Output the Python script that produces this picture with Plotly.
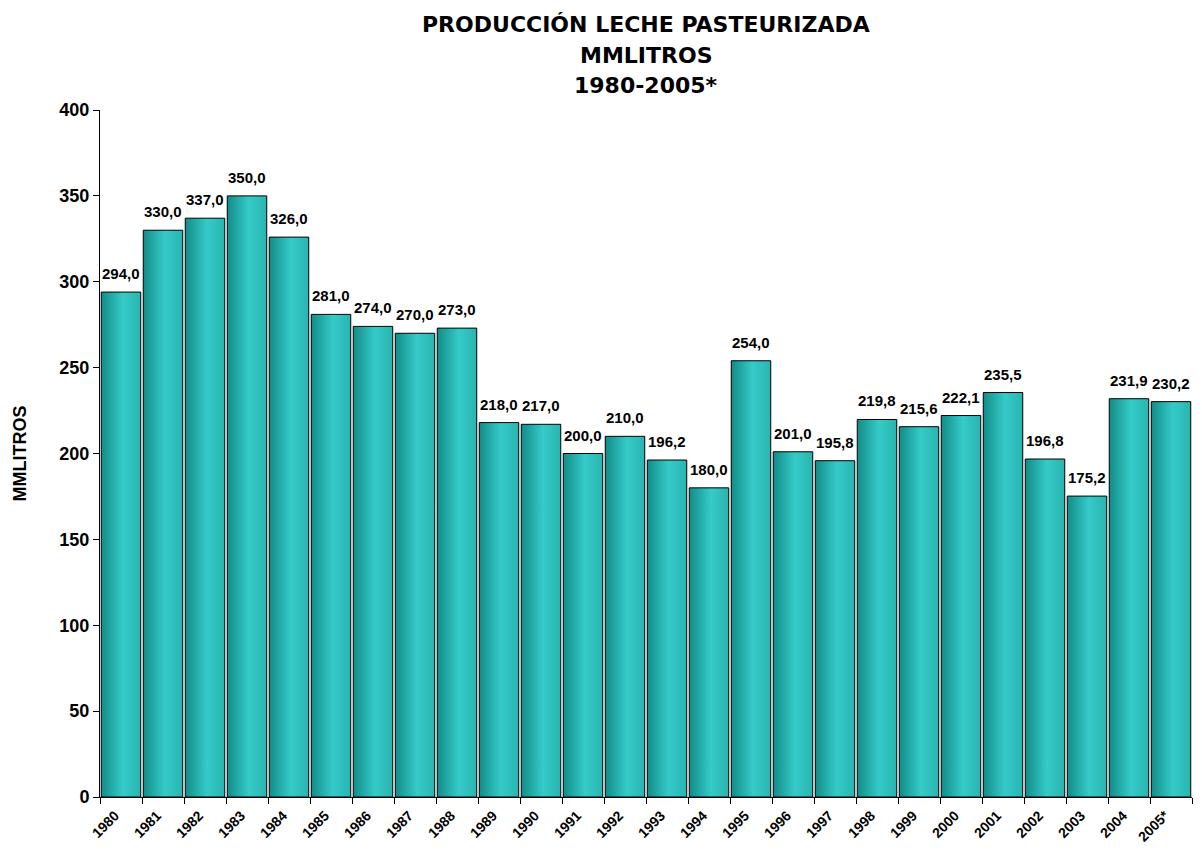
import plotly.graph_objects as go

YEARS = ["1980", "1981", "1982", "1983", "1984", "1985", "1986", "1987", "1988",
         "1989", "1990", "1991", "1992", "1993", "1994", "1995", "1996", "1997",
         "1998", "1999", "2000", "2001", "2002", "2003", "2004", "2005*"]
PRODUCCION = [294.0, 330.0, 337.0, 350.0, 326.0, 281.0, 274.0, 270.0, 273.0,
              218.0, 217.0, 200.0, 210.0, 196.2, 180.0, 254.0, 201.0, 195.8,
              219.8, 215.6, 222.1, 235.5, 196.8, 175.2, 231.9, 230.2]
TITLE_LINES = ["PRODUCCIÓN LECHE PASTEURIZADA", "MMLITROS", "1980-2005*"]

FONT = "Liberation Sans, Arial, sans-serif"
TITLE_FONT = "DejaVu Sans, Liberation Sans, sans-serif"
HALF = 0.47

fig = go.Figure()
for i, v in enumerate(PRODUCCION):
    # cada barra como polígono relleno para poder usar degradado
    fig.add_trace(go.Scatter(
        x=[i - HALF, i + HALF, i + HALF, i - HALF, i - HALF],
        y=[0, 0, v, v, 0],
        mode="lines", fill="toself",
        fillgradient=dict(
            type="horizontal",
            colorscale=[[0, "#128c88"], [0.55, "#35cbc8"], [1, "#2ab4b0"]],
        ),
        line=dict(color="black", width=1),
        showlegend=False, hoverinfo="skip",
    ))

annotations = []
for i, v in enumerate(PRODUCCION):
    annotations.append(dict(
        x=i, y=v, xref="x", yref="y",
        text=f"{v:.1f}".replace(".", ","),
        showarrow=False, xanchor="center", yanchor="bottom", yshift=8,
        font=dict(family=FONT, size=15, color="black", weight="bold"),
    ))

# la página tiene 8px de margen en body: todo va desplazado 8px
W, H = 1186, 836
M_L, M_R, M_T, M_B = 92, 2, 102, 47
PLOT_H = H - M_T - M_B
PLOT_W = W - M_L - M_R
for text, ypix in zip(TITLE_LINES, [16, 47, 78]):
    annotations.append(dict(
        x=0.5, y=(H - M_B - ypix) / PLOT_H,
        xref="paper", yref="paper", text=text, showarrow=False,
        xanchor="center", yanchor="middle",
        font=dict(family=TITLE_FONT, size=22, color="black", weight="bold"),
    ))
annotations.append(dict(
    x=(11 - M_L) / PLOT_W, y=0.5, xref="paper", yref="paper",
    text="MMLITROS", showarrow=False, textangle=-90,
    xanchor="center", yanchor="middle",
    font=dict(family=FONT, size=18, color="black", weight="bold"),
))

fig.update_layout(
    width=W, height=H,
    paper_bgcolor="white", plot_bgcolor="white",
    margin=dict(l=M_L, r=M_R, t=M_T, b=M_B),
    annotations=annotations,
    xaxis=dict(
        range=[-0.5, len(YEARS) - 0.5], automargin=False,
        tickvals=list(range(len(YEARS))), ticktext=YEARS,
        tickangle=-45, ticks="", showgrid=False, zeroline=False,
        ticklabelstandoff=4, ticklabelshift=-6,
        showline=True, linecolor="black", linewidth=1,
        tickfont=dict(family=FONT, size=14, color="black", weight="bold"),
        minor=dict(tickvals=[i - 0.5 for i in range(len(YEARS) + 1)],
                   ticks="outside", ticklen=6, tickcolor="black", showgrid=False),
    ),
    yaxis=dict(
        range=[0, 400], dtick=50, automargin=False,
        ticks="outside", ticklen=6, tickcolor="black",
        showgrid=False, zeroline=False,
        showline=True, linecolor="black", linewidth=1,
        tickfont=dict(family=FONT, size=18, color="black", weight="bold"),
    ),
)

fig.write_html("out.html")
